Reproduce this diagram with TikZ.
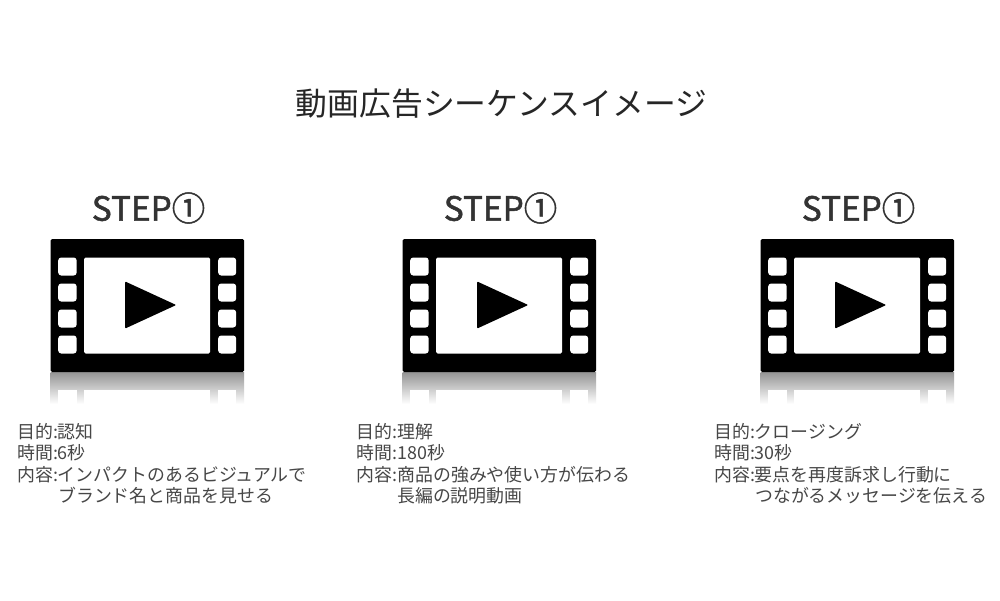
\documentclass[tikz,border=0pt]{standalone}
\usepackage{fontspec}
\setmainfont{Noto Sans CJK JP}
\newfontfamily\stepfont[FakeBold=1.5]{Noto Sans CJK JP}
\newcommand{\bodysize}{\fontsize{17.9pt}{22pt}\selectfont}
\tikzset{
  titletext/.style={inner sep=0pt,anchor=center,text=black!85,font=\fontsize{31.8pt}{36pt}\selectfont},
  steptext/.style={inner sep=0pt,anchor=center,text=black!80,font=\stepfont\fontsize{33.4pt}{36pt}\selectfont},
  bodytext/.style={inner sep=0pt,anchor=base west,text=black!72,font=\bodysize},
  filmicon/.pic={
    \shade[top color=black!42,bottom color=white] (0,133) rectangle (193.5,165);
    \foreach \ya/\yb in {151/165}{
      \fill[white] (33.5,\ya) rectangle (159.5,\yb);
      \fill[white] (7.5,\ya) rectangle (26,\yb);
      \fill[white] (167.5,\ya) rectangle (185.5,\yb);
    }
    \fill[black,rounded corners=1.5pt] (0,0) rectangle (193.5,133);
    \fill[white,rounded corners=1.5pt] (33.5,18.5) rectangle (159.5,114.5);
    \foreach \y in {18.5,44.5,70.5,96.5}{
      \fill[white,rounded corners=3pt] (7.5,\y) rectangle (26,\y+18);
      \fill[white,rounded corners=3pt] (167.5,\y) rectangle (185.5,\y+18);
    }
    \fill[black,rounded corners=0.8pt] (74.5,42.5) -- (125.5,66) -- (74.5,89.5) -- cycle;
  }
}
\begin{document}
\begin{tikzpicture}[x=1pt,y=-1pt]
\path[use as bounding box,fill=white] (0,0) rectangle (1000,600);
\node[titletext] (title) at (501.5,104) {動画広告シーケンスイメージ};

\node[steptext] (stepa) at (148.5,208) {STEP①};
\node[steptext] (stepb) at (500.5,208) {STEP①};
\node[steptext] (stepc) at (858.5,208) {STEP①};

\pic (icona) at (50.7,239) {filmicon};
\pic (iconb) at (402.7,239) {filmicon};
\pic (iconc) at (760.7,239) {filmicon};

\node[bodytext] (a1) at (17,438) {目的:認知};
\node[bodytext] (a2) at (17,459.5) {時間:6秒};
\node[bodytext] (a3) at (17,481) {内容:インパクトのあるビジュアルで};
\node[bodytext] (a4) at (58,502.5) {ブランド名と商品を見せる};

\node[bodytext] (b1) at (356.5,438) {目的:理解};
\node[bodytext] (b2) at (356.5,459.5) {時間:180秒};
\node[bodytext] (b3) at (356.5,481) {内容:商品の強みや使い方が伝わる};
\node[bodytext] (b4) at (397,502.5) {長編の説明動画};

\node[bodytext] (c1) at (714,438) {目的:クロージング};
\node[bodytext] (c2) at (714,459.5) {時間:30秒};
\node[bodytext] (c3) at (714,481) {内容:要点を再度訴求し行動に};
\node[bodytext] (c4) at (755,502.5) {つながるメッセージを伝える};
\end{tikzpicture}
\end{document}
